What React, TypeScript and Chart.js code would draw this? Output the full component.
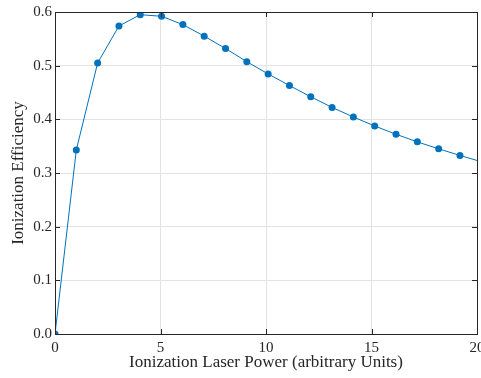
import React, { useEffect, useRef } from "react";
import { Chart, registerables } from "chart.js";

Chart.register(...registerables);

const STEP = 100 / 99;
const efficiency = [
  0, 0.343, 0.505, 0.574, 0.595, 0.592, 0.5765, 0.555, 0.532, 0.5074, 0.4846,
  0.463, 0.442, 0.4222, 0.4043, 0.3876, 0.3722, 0.358, 0.345, 0.3328, 0.321,
];
const xTicks = [0, 5, 10, 15, 20];
const yTicks = [0, 0.1, 0.2, 0.3, 0.4, 0.5, 0.6];
const xTitle = "Ionization Laser Power (arbitrary Units)";
const yTitle = "Ionization Efficiency";

const FONT = "'Liberation Serif', 'Times New Roman', serif";
const AXIS = "#262626";

const boxPlugin = {
  id: "boxTicks",
  afterDatasetsDraw(chart: any) {
    const { ctx, chartArea: a, scales } = chart;
    ctx.save();
    ctx.strokeStyle = AXIS;
    ctx.lineWidth = 1;
    const L = 5;
    ctx.beginPath();
    for (const v of xTicks) {
      const px = Math.round(scales.x.getPixelForValue(v)) + 0.5;
      ctx.moveTo(px, a.bottom);
      ctx.lineTo(px, a.bottom - L);
      ctx.moveTo(px, a.top);
      ctx.lineTo(px, a.top + L);
    }
    for (const v of yTicks) {
      const py = Math.round(scales.y.getPixelForValue(v)) + 0.5;
      ctx.moveTo(a.left, py);
      ctx.lineTo(a.left + L, py);
      ctx.moveTo(a.right, py);
      ctx.lineTo(a.right - L, py);
    }
    ctx.stroke();
    ctx.strokeRect(
      Math.round(a.left) + 0.5,
      Math.round(a.top) + 0.5,
      Math.round(a.right - a.left),
      Math.round(a.bottom - a.top)
    );
    ctx.restore();
  },
};

export default function App() {
  const ref = useRef<HTMLCanvasElement>(null);
  useEffect(() => {
    const data = efficiency.map((y, i) => ({ x: i * STEP, y }));
    const chart = new Chart(ref.current!, {
      type: "scatter",
      data: {
        datasets: [
          {
            data,
            showLine: true,
            borderColor: "#0072BD",
            backgroundColor: "#0072BD",
            borderWidth: 1,
            pointRadius: 3.5,
            pointBorderWidth: 0,
            pointHoverRadius: 3.5,
            clip: 0,
          },
        ],
      },
      options: {
        animation: false,
        responsive: false,
        maintainAspectRatio: false,
        layout: { padding: { top: 10, right: 4, left: 0, bottom: 0 } },
        plugins: { legend: { display: false }, tooltip: { enabled: false } },
        scales: {
          x: {
            type: "linear",
            min: 0,
            max: 20,
            afterBuildTicks: (s: any) => {
              s.ticks = xTicks.map((v) => ({ value: v }));
            },
            afterFit: (s: any) => {
              s.height = 44;
              s.paddingLeft = 0;
              s.paddingRight = 0;
            },
            ticks: {
              color: AXIS,
              font: { family: FONT, size: 15 },
              padding: 5,
              maxRotation: 0,
              callback: (v: any) => String(v),
            },
            grid: { color: "#e3e3e3", drawTicks: false },
            border: { display: false },
            title: {
              display: true,
              text: xTitle,
              color: AXIS,
              font: { family: FONT, size: 17 },
              padding: { top: 2, bottom: 5 },
            },
          },
          y: {
            type: "linear",
            min: 0,
            max: 0.6,
            afterBuildTicks: (s: any) => {
              s.ticks = yTicks.map((v) => ({ value: v }));
            },
            afterFit: (s: any) => {
              s.width = 55;
            },
            ticks: {
              color: AXIS,
              font: { family: FONT, size: 15 },
              padding: 3,
              callback: (v: any) => Number(v).toFixed(1),
            },
            grid: { color: "#e3e3e3", drawTicks: false },
            border: { display: false },
            title: {
              display: true,
              text: yTitle,
              color: AXIS,
              font: { family: FONT, size: 17 },
              padding: { top: 8, bottom: 0 },
            },
          },
        },
      },
      plugins: [boxPlugin],
    });
    return () => chart.destroy();
  }, []);
  return (
    <div style={{ position: "fixed", left: 0, top: 0, width: 481, height: 378, background: "#fff" }}>
      <canvas ref={ref} width={481} height={378} style={{ width: 481, height: 378 }} />
    </div>
  );
}
